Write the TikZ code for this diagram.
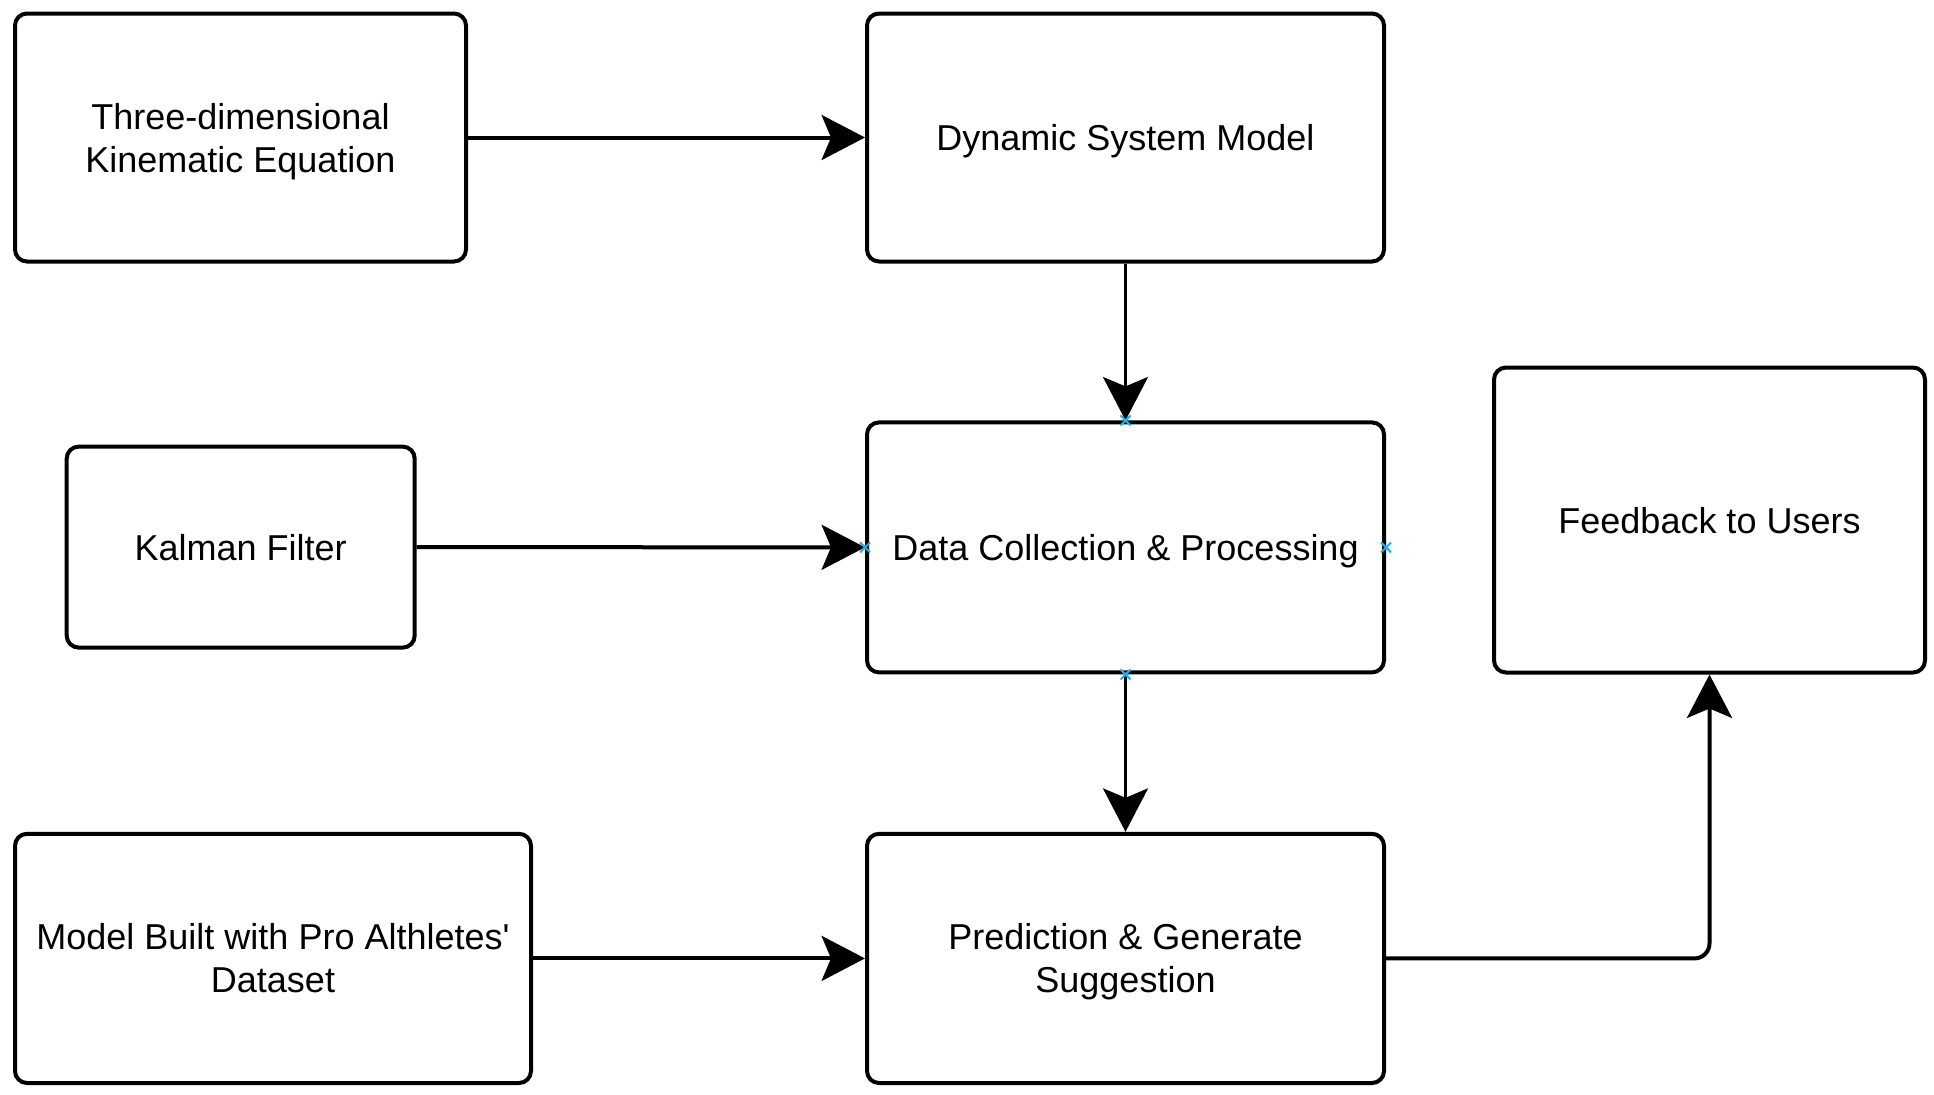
\documentclass[tikz,border=0pt]{standalone}
\usepackage{fontspec}
\setmainfont{Liberation Sans}
\usetikzlibrary{arrows.meta}
\definecolor{markblue}{RGB}{41,170,226}
\newcommand{\straightquote}{{\XeTeXglyph\XeTeXcharglyph"0027\relax}}
\begin{document}
\begin{tikzpicture}[x=0.5pt,y=-0.5pt,
  box/.style={draw=black, line width=2pt, rounded corners=6pt, fill=white,
    inner sep=0pt, align=center, text depth=0pt, font=\fontsize{18}{21.5}\selectfont},
  conn/.style={draw=black, line width=2pt,
    -{Stealth[length=21.7pt, width=22.5pt, inset=4.7pt]}},
  thinconn/.style={conn, line width=1.6pt},
  xmark/.style={draw=markblue, line width=1pt}
]
\useasboundingbox (0,0) rectangle (1934,1094);

\node[box, minimum width=225.5pt, minimum height=124pt] (kin) at (240.5,137.5) {Three-dimensional\\Kinematic Equation};
\node[box, minimum width=258.5pt, minimum height=124pt] (dyn) at (1125.5,137.5) {Dynamic System Model};
\node[box, minimum width=174pt, minimum height=100.5pt] (kal) at (240.7,547.1) {Kalman Filter};
\node[box, minimum width=258.5pt, minimum height=125pt] (data) at (1125.5,547.4) {Data Collection \& Processing};
\node[box, minimum width=215.5pt, minimum height=152.5pt] (fb) at (1709.5,520) {Feedback to Users};
\node[box, minimum width=258pt, minimum height=124.6pt] (model) at (273,958.4) {Model Built with Pro Althletes\straightquote\\Dataset};
\node[box, minimum width=258.5pt, minimum height=124.6pt] (pred) at (1125.5,958.4) {Prediction \& Generate\\Suggestion};

\draw[conn] (kin) -- (dyn);
\draw[thinconn] (dyn) -- (data);
\draw[conn] (kal) -- (data);
\draw[thinconn] (data) -- (pred);
\draw[conn] (model) -- (pred);
\draw[conn, rounded corners=7.5pt] (pred.east) -| (fb.south);

\draw[xmark, shift={(data.north)}] (-5,-5) -- (5,5) (-5,5) -- (5,-5);
\draw[xmark, shift={(data.south)}] (-5,-5) -- (5,5) (-5,5) -- (5,-5);
\draw[xmark, shift={(data.west)}] (-5,-5) -- (5,5) (-5,5) -- (5,-5);
\draw[xmark, shift={(data.east)}] (-5,-5) -- (5,5) (-5,5) -- (5,-5);
\end{tikzpicture}
\end{document}
